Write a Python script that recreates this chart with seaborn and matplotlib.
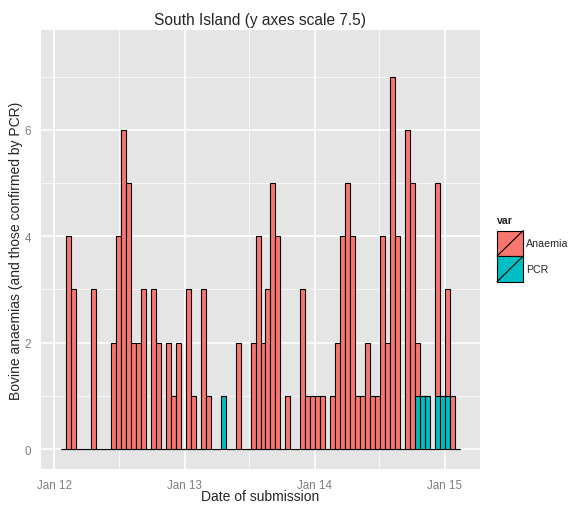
import numpy as np
import pandas as pd
import matplotlib
matplotlib.use("Agg")
import matplotlib.pyplot as plt
import matplotlib.dates as mdates
from matplotlib.patches import Rectangle, Patch
from matplotlib.lines import Line2D
from matplotlib.legend_handler import HandlerBase
import seaborn as sns

# Fortnightly counts of bovine anaemia submissions, South Island
bin_start = "2012-01-20"
bin_days = 14
anaemia = [0, 4, 3, 0, 0, 0, 3, 0, 0, 0,
           2, 4, 6, 5, 2, 2, 3, 0, 3, 2,
           0, 2, 1, 2, 0, 3, 1, 0, 3, 1,
           0, 0, 0, 0, 0, 2, 0, 0, 2, 4,
           2, 3, 5, 4, 0, 1, 0, 0, 3, 1,
           1, 1, 1, 0, 1, 2, 4, 5, 4, 1,
           1, 2, 1, 1, 4, 2, 7, 4, 0, 6,
           5, 1, 0, 0, 0, 4, 0, 2, 1, 0]
pcr = [0, 0, 0, 0, 0, 0, 0, 0, 0, 0,
       0, 0, 0, 0, 0, 0, 0, 0, 0, 0,
       0, 0, 0, 0, 0, 0, 0, 0, 0, 0,
       0, 0, 1, 0, 0, 0, 0, 0, 0, 0,
       0, 0, 0, 0, 0, 0, 0, 0, 0, 0,
       0, 0, 0, 0, 0, 0, 0, 0, 0, 0,
       0, 0, 0, 0, 0, 0, 0, 0, 0, 0,
       0, 1, 1, 1, 0, 1, 1, 1, 0, 0]
series_names = ["Anaemia", "PCR"]
series_colors = ["#F8766D", "#00BFC4"]
y_major = [0, 2, 4, 6]
y_minor = [1, 3, 5, 7]

edges = pd.date_range(bin_start, periods=len(anaemia) + 1, freq=f"{bin_days}D")
mids = edges[:-1] + pd.Timedelta(days=bin_days / 2)
df = pd.concat([
    pd.DataFrame({"date": mids, "var": series_names[0], "n": anaemia}),
    pd.DataFrame({"date": mids, "var": series_names[1], "n": pcr}),
], ignore_index=True)

sns.set_style("darkgrid", {"axes.facecolor": "#E5E5E5", "grid.color": "white"})
plt.rcParams["font.family"] = ["Liberation Sans", "DejaVu Sans"]

fig = plt.figure(figsize=(5.73, 5.06), dpi=100)
W, H = 573, 506
px_l, px_r, px_t, px_b = 41, 480, 31, 470
ax = fig.add_axes([px_l / W, (H - px_b) / H, (px_r - px_l) / W, (px_b - px_t) / H])

bin_edges = [float(v) for v in mdates.date2num(edges)]
sns.histplot(data=df, x="date", weights="n", hue="var", hue_order=series_names,
             multiple="stack", bins=bin_edges,
             palette=dict(zip(series_names, series_colors)),
             edgecolor="black", linewidth=0.8, alpha=1, legend=False, ax=ax)

span = edges[-1] - edges[0]
ax.set_xlim(edges[0] - span * 0.05, edges[-1] + span * 0.05)
ax.set_ylim(-0.375, 7.875)

ax.xaxis.set_major_locator(mdates.YearLocator())
ax.xaxis.set_major_formatter(mdates.DateFormatter("%b %y"))
ax.xaxis.set_minor_locator(mdates.MonthLocator(bymonth=7))
ax.set_yticks(y_major)
ax.set_yticks(y_minor, minor=True)

ax.grid(which="major", color="white", linewidth=1.2)
ax.grid(which="minor", color="white", linewidth=0.5)
for s in ax.spines.values():
    s.set_visible(False)
ax.tick_params(which="major", length=4, width=0.8, color="#7F7F7F",
               labelcolor="#7F7F7F", labelsize=8.4, pad=3, direction="out")
ax.tick_params(which="minor", length=0)

ax.set_title("South Island (y axes scale 7.5)", fontsize=11.2, pad=4)
ax.set_xlabel("Date of submission", fontsize=10, va="center")
ax.set_ylabel("Bovine anaemias (and those confirmed by PCR)", fontsize=10, va="center")
aw, ah = px_r - px_l, px_b - px_t
ax.xaxis.set_label_coords((260 - px_l) / aw, (px_b - 497) / ah)
ax.yaxis.set_label_coords((16 - px_l) / aw, 0.5)


class SlashKey(HandlerBase):
    def create_artists(self, legend, orig_handle, xdescent, ydescent,
                       width, height, fontsize, trans):
        x0, y0 = -xdescent, -ydescent
        rect = Rectangle((x0, y0), width, height,
                         facecolor=orig_handle.get_facecolor(),
                         edgecolor="black", linewidth=0.8, transform=trans)
        slash = Line2D([x0, x0 + width], [y0, y0 + height],
                       color="black", linewidth=0.8, transform=trans)
        return [rect, slash]


handles = [Patch(facecolor=c) for c in series_colors]
fs = 7.7
leg = fig.legend(handles, series_names, handler_map={Patch: SlashKey()},
                 loc="upper left", bbox_to_anchor=(497 / W, 1 - 216 / H),
                 frameon=False, fontsize=fs, title="var",
                 title_fontproperties={"weight": "bold", "size": fs},
                 handlelength=2.45, handleheight=3.3, labelspacing=0,
                 handletextpad=0.3, borderpad=0, borderaxespad=0,
                 alignment="left")
leg._legend_box.sep = 4

fig.savefig("out.png", dpi=100)
